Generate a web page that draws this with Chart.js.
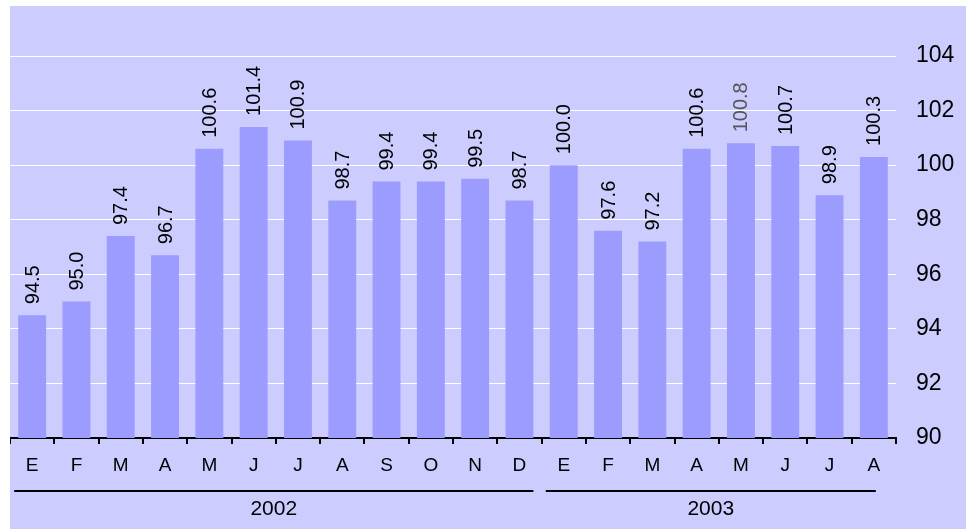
<!DOCTYPE html>
<html>
<head>
<meta charset="utf-8">
<script src="https://cdn.jsdelivr.net/npm/chart.js@4"></script>
<style>
  html, body { margin: 0; padding: 0; background: #fff; }
  #wrap {
    position: absolute; left: 10px; top: 6px;
    width: 956px; height: 523px;
    background: #ccccff;
  }
</style>
</head>
<body>
<div id="wrap"><canvas id="chart"></canvas></div>
<script>
// monthly index, Jan 2002 - Aug 2003
const months = ['E', 'F', 'M', 'A', 'M', 'J', 'J', 'A', 'S', 'O', 'N', 'D',
                'E', 'F', 'M', 'A', 'M', 'J', 'J', 'A'];
const values = [94.5, 95.0, 97.4, 96.7, 100.6, 101.4, 100.9, 98.7, 99.4, 99.4, 99.5, 98.7,
                100.0, 97.6, 97.2, 100.6, 100.8, 100.7, 98.9, 100.3];
const years = ['2002', '2003'];
const yearFirst = [0, 12];
const yearLast = [11, 19];
const yTicks = [90, 92, 94, 96, 98, 100, 102, 104];

const FONT = '"Liberation Sans", Arial, sans-serif';

// value labels rotated above each bar
const barLabels = {
  id: 'barLabels',
  afterDatasetsDraw(chart) {
    const ctx = chart.ctx;
    const meta = chart.getDatasetMeta(0);
    ctx.save();
    ctx.font = '20px ' + FONT;
    ctx.textAlign = 'left';
    ctx.textBaseline = 'middle';
    meta.data.forEach((bar, i) => {
      ctx.save();
      ctx.translate(bar.x, bar.y - 11);
      ctx.rotate(-Math.PI / 2);
      ctx.fillStyle = i === 16 ? '#555' : '#000';
      ctx.fillText(values[i].toFixed(1), 0, 1);
      ctx.restore();
    });
    ctx.restore();
  }
};

// year groups under the month letters
const yearGroups = {
  id: 'yearGroups',
  afterDraw(chart) {
    const ctx = chart.ctx;
    const meta = chart.getDatasetMeta(0);
    const lineY = chart.chartArea.bottom + 53;
    ctx.save();
    ctx.strokeStyle = '#000';
    ctx.lineWidth = 2;
    ctx.fillStyle = '#000';
    ctx.font = '21px ' + FONT;
    ctx.textAlign = 'center';
    ctx.textBaseline = 'middle';
    years.forEach((yr, k) => {
      const first = meta.data[yearFirst[k]];
      const last = meta.data[yearLast[k]];
      const x0 = first.x - first.width / 2 - 4;
      const x1 = last.x + last.width / 2 - (k === years.length - 1 ? 12 : 0);
      ctx.beginPath();
      ctx.moveTo(x0, lineY);
      ctx.lineTo(x1, lineY);
      ctx.stroke();
      ctx.fillText(yr, (x0 + x1) / 2, lineY + 18);
    });
    ctx.restore();
  }
};

new Chart(document.getElementById('chart'), {
  type: 'bar',
  data: {
    labels: months,
    datasets: [{
      data: values,
      backgroundColor: '#9c9cff',
      borderWidth: 0,
      barPercentage: 0.63,
      categoryPercentage: 1
    }]
  },
  options: {
    responsive: true,
    maintainAspectRatio: false,
    animation: false,
    layout: { padding: { top: 50, left: 0, right: 0, bottom: 0 } },
    plugins: {
      legend: { display: false },
      tooltip: { enabled: false }
    },
    scales: {
      x: {
        afterFit(scale) { scale.height = 91; },
        grid: {
          drawOnChartArea: false,
          drawTicks: true,
          tickLength: 6,
          color: '#000',
          lineWidth: 2
        },
        border: { display: true, color: '#000', width: 2 },
        ticks: {
          color: '#000',
          font: { family: FONT, size: 19 },
          padding: 10,
          maxRotation: 0,
          autoSkip: false
        }
      },
      y: {
        position: 'right',
        min: 90,
        max: 104,
        afterFit(scale) { scale.width = 70; },
        afterBuildTicks(scale) { scale.ticks = yTicks.map(v => ({ value: v })); },
        grid: {
          drawTicks: false,
          color: ctx => ctx.tick && ctx.tick.value === 90 ? 'rgba(0,0,0,0)' : '#fff',
          lineWidth: 1
        },
        border: { display: false },
        ticks: {
          color: '#000',
          font: { family: FONT, size: 23 },
          padding: 20
        }
      }
    }
  },
  plugins: [barLabels, yearGroups]
});
</script>
</body>
</html>
